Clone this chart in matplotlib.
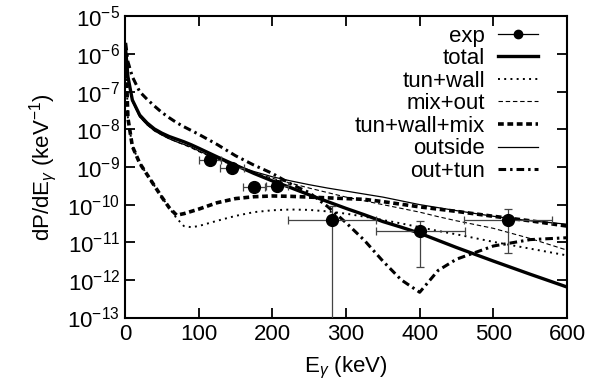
import numpy as np
import matplotlib
matplotlib.use("Agg")
import matplotlib.pyplot as plt
from matplotlib.lines import Line2D

plt.rcParams['font.family'] = ['Liberation Sans', 'DejaVu Sans']
plt.rcParams['mathtext.fontset'] = 'custom'
plt.rcParams['mathtext.rm'] = 'Liberation Sans'
plt.rcParams['mathtext.it'] = 'Liberation Sans:italic'

# Photon energy grid (keV) shared by the model curves
energy = [1, 4, 10, 20, 30, 40, 50, 60, 70, 80, 90, 100, 125, 150, 175, 200,
          225, 250, 275, 300, 325, 350, 375, 400, 425, 450, 500, 550, 600]

# log10 of dP/dE (keV^-1)
total_log = [-5.9, -6.6, -7.22, -7.62, -7.83, -7.99, -8.10, -8.19, -8.26, -8.33, -8.41, -8.5,
             -8.73, -8.95, -9.17, -9.37, -9.55, -9.74, -9.92, -10.1, -10.27, -10.45, -10.6,
             -10.76, -10.95, -11.14, -11.5, -11.85, -12.19]
tunwall_log = [-6.0, -7.7, -8.45, -8.9, -9.2, -9.5, -9.8, -10.08, -10.36, -10.57, -10.6, -10.57,
               -10.43, -10.3, -10.2, -10.15, -10.13, -10.14, -10.18, -10.24, -10.32, -10.41,
               -10.5, -10.6, -10.7, -10.79, -10.99, -11.17, -11.35]
mixout_log = [-5.9, -6.6, -7.25, -7.67, -7.88, -8.04, -8.15, -8.25, -8.33, -8.41, -8.49, -8.59,
              -8.8, -8.98, -9.15, -9.3, -9.43, -9.56, -9.68, -9.8, -9.9, -10.0, -10.1, -10.2,
              -10.32, -10.43, -10.63, -10.9, -11.21]
tunwallmix_log = [-6.0, -7.7, -8.45, -8.9, -9.2, -9.5, -9.8, -10.08, -10.28, -10.24, -10.18,
                  -10.12, -9.95, -9.84, -9.79, -9.77, -9.78, -9.8, -9.82, -9.84, -9.86, -9.92,
                  -9.99, -10.06, -10.12, -10.18, -10.31, -10.43, -10.57]
outside_log = [-5.9, -6.6, -7.25, -7.67, -7.88, -8.04, -8.15, -8.25, -8.33, -8.4, -8.47, -8.57,
               -8.78, -8.95, -9.12, -9.26, -9.37, -9.47, -9.56, -9.64, -9.72, -9.8, -9.9, -10.0,
               -10.08, -10.16, -10.31, -10.43, -10.52]
outtun_log = [-5.7, -6.2, -6.6, -7.0, -7.2, -7.38, -7.55, -7.69, -7.82, -7.93, -8.03, -8.13,
              -8.4, -8.7, -8.95, -9.17, -9.45, -9.68, -10.05, -10.48, -10.95, -11.5, -12.0,
              -12.33, -11.75, -11.45, -11.1, -10.93, -10.88]

# Experimental points
exp_e = [115, 145, 175, 206, 281, 401, 520]
exp_p = [1.5e-9, 9.3e-10, 3.0e-10, 3.2e-10, 4.0e-11, 2.0e-11, 4.0e-11]
exp_xerr = [15, 16, 15, 15, 60, 60, 60]
exp_p_hi = [1.5e-9, 9.3e-10, 3.0e-10, 3.2e-10, 9.0e-11, 3.7e-11, 7.8e-11]
exp_p_lo = [1.5e-9, 9.3e-10, 3.0e-10, 3.2e-10, 1e-14, 2.2e-12, 5.2e-12]

E = np.array(energy)

fig = plt.figure(figsize=(6.02, 3.88), dpi=100)
ax = fig.add_axes([0.2076, 0.1817, 0.7343, 0.7758])

fs = 16

ax.plot(E, 10 ** np.array(total_log), color='black', lw=2.4, label='total')
ax.plot(E, 10 ** np.array(tunwall_log), color='black', lw=1.4, ls=(0, (1, 2.2)), label='tun+wall')
ax.plot(E, 10 ** np.array(mixout_log), color='black', lw=0.8, ls=(0, (4, 2.5)), label='mix+out')
ax.plot(E, 10 ** np.array(tunwallmix_log), color='black', lw=2.6, ls=(0, (1.6, 1)), label='tun+wall+mix')
ax.plot(E, 10 ** np.array(outside_log), color='black', lw=0.9, label='outside')
ax.plot(E, 10 ** np.array(outtun_log), color='black', lw=2.2, ls=(0, (2.5, 1.3, 0.8, 1.3)), label='out+tun')

p = np.array(exp_p)
yerr = [p - np.array(exp_p_lo), np.array(exp_p_hi) - p]
ax.errorbar(exp_e, exp_p, xerr=exp_xerr, yerr=yerr, fmt='o', color='black', ms=8.5,
            ecolor='#444444', elinewidth=0.9, capsize=3, capthick=0.9, zorder=5)

ax.set_yscale('log')
ax.set_xlim(0, 600)
ax.set_ylim(1e-13, 1e-5)
ax.set_xticks([0, 100, 200, 300, 400, 500, 600])
ax.set_yticks([10.0 ** k for k in range(-13, -4)])
ax.tick_params(which='both', direction='in', top=True, right=True, labelsize=fs, width=1.3)
ax.tick_params(which='major', length=7)
ax.tick_params(which='minor', length=3.5)
ax.tick_params(axis='x', pad=5)
for s in ax.spines.values():
    s.set_linewidth(1.5)

ax.set_xlabel(r'E$_\gamma$ (keV)', fontsize=fs, labelpad=7)
ax.set_ylabel(r'dP/dE$_\gamma$ (keV$^{-1}$)', fontsize=fs, labelpad=6)

handles, labels = ax.get_legend_handles_labels()
exp_handle = Line2D([], [], color='black', marker='o', ms=6, lw=0.9)
leg = ax.legend([exp_handle] + handles, ['exp'] + labels, loc='upper right',
                bbox_to_anchor=(0.965, 1.014), frameon=False, markerfirst=False,
                fontsize=fs, handlelength=1.8, handletextpad=0.6, labelspacing=0.07,
                borderaxespad=0.2)

fig.savefig('out.png', dpi=100)
